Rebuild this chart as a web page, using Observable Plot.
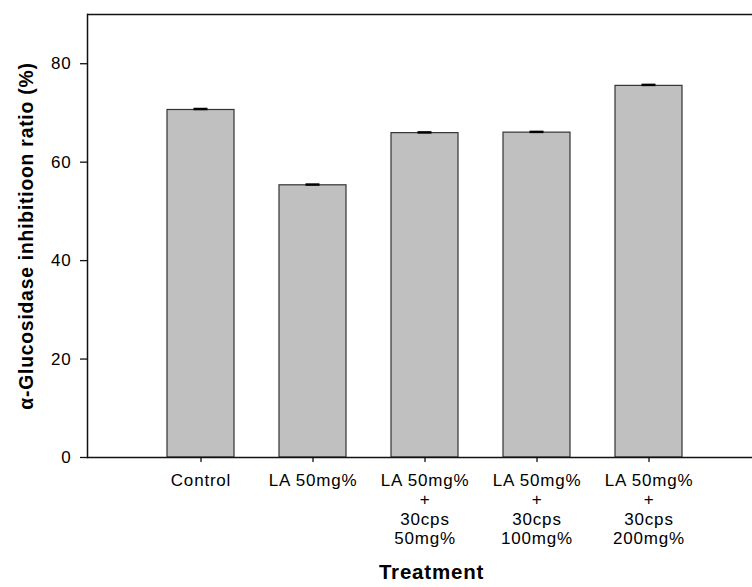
<!DOCTYPE html>
<html>
<head>
<meta charset="utf-8">
<script src="https://cdn.jsdelivr.net/npm/d3@7"></script>
<script src="https://cdn.jsdelivr.net/npm/@observablehq/plot@0.6"></script>
<style>
  html, body { margin: 0; padding: 0; background: #fff; overflow: hidden; }
  #chart svg { display: block; }
</style>
</head>
<body>
<div id="chart"></div>
<script>
// Treatment groups (tick labels, one line per row)
const treatments = [
  "Control",
  "LA 50mg%",
  "LA 50mg%\n+\n30cps\n50mg%",
  "LA 50mg%\n+\n30cps\n100mg%",
  "LA 50mg%\n+\n30cps\n200mg%"
];
// Mean α-glucosidase inhibition ratio (%) and its error
const ratios = [70.6, 55.3, 65.9, 66.0, 75.5];
const errors = [0.2, 0.15, 0.15, 0.15, 0.2];
const yTicks = [0, 20, 40, 60, 80];
const yTitle = "α-Glucosidase inhibitioon ratio (%)";
const xTitle = "Treatment";

const rows = treatments.map((t, i) => ({treatment: t, ratio: ratios[i], err: errors[i]}));

const chart = Plot.plot({
  width: 752,
  height: 587,
  marginLeft: 87,
  marginRight: 0,
  marginTop: 14,
  marginBottom: 130,
  style: {
    fontFamily: "Arial, 'Liberation Sans', sans-serif",
    fontSize: "17px",
    color: "#000",
    background: "#fff",
    letterSpacing: "0.8px"
  },
  x: {
    domain: treatments,
    range: [143.9, 705],
    paddingInner: 0.4,
    paddingOuter: 0.2
  },
  y: {domain: [0, 90]},
  marks: [
    // bars with small error caps on top
    Plot.barY(rows, {x: "treatment", y: "ratio", fill: "#c0c0c0", stroke: "#333", strokeWidth: 1.2}),
    Plot.ruleX(rows, {x: "treatment", y1: "ratio", y2: d => d.ratio + d.err, stroke: "#000", strokeWidth: 1.5}),
    Plot.tickY(rows, {x: "treatment", y: d => d.ratio + d.err, stroke: "#000", strokeWidth: 2.5, insetLeft: 26.5, insetRight: 26.5}),
    // open frame: baseline, top and left edges
    Plot.ruleY([0, 90], {stroke: "#111", strokeWidth: 1.5}),
    Plot.frame({anchor: "left", stroke: "#111", strokeWidth: 1.5}),
    Plot.axisY({ticks: yTicks, tickSize: 7, tickPadding: 9, label: null, fontSize: 17, stroke: "#111", strokeWidth: 1.3}),
    Plot.axisX({tickSize: 5, tickPadding: 10, label: null, fontSize: 17, lineHeight: 1.135, stroke: "#111", strokeWidth: 1.3}),
    Plot.text([yTitle], {frameAnchor: "left", textAnchor: "middle", rotate: -90, dx: -60.5, fontSize: 19.3, fontWeight: "bold", fill: "#000"}),
    Plot.text([xTitle], {frameAnchor: "bottom", dx: 11.5, dy: 121, fontSize: 20.5, fontWeight: "bold", fill: "#000"})
  ]
});

document.getElementById("chart").appendChild(chart);
</script>
</body>
</html>
